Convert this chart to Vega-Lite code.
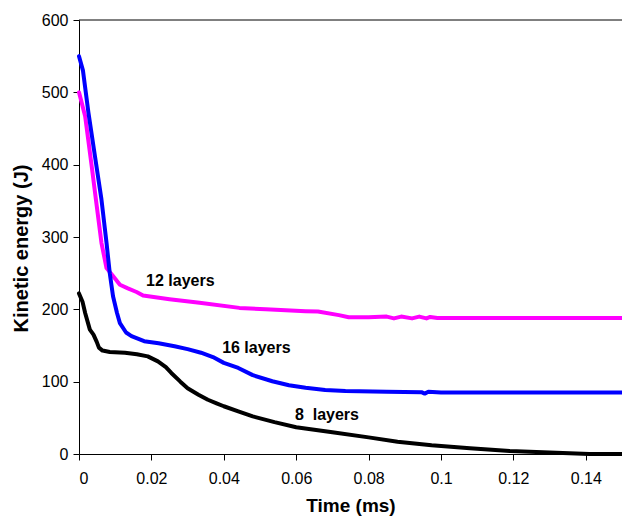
{
  "$schema": "https://vega.github.io/schema/vega-lite/v6.json",
  "width": 543,
  "height": 434,
  "autosize": {"type": "none"},
  "padding": {"left": 79, "top": 20, "right": 0, "bottom": 62},
  "background": "white",
  "config": {
    "view": {"stroke": null},
    "font": "Liberation Sans",
    "axis": {
      "grid": false,
      "domainColor": "black",
      "tickColor": "black",
      "labelColor": "black",
      "titleColor": "black",
      "labelFont": "Liberation Sans",
      "titleFont": "Liberation Sans",
      "labelFontSize": 16,
      "titleFontWeight": "bold",
      "tickSize": 6
    }
  },
  "datasets": {
    "curves": [
      {"t": 0, "e": 222, "s": "8 layers"},
      {"t": 0.001, "e": 210, "s": "8 layers"},
      {"t": 0.0017, "e": 195, "s": "8 layers"},
      {"t": 0.003, "e": 172, "s": "8 layers"},
      {"t": 0.004, "e": 165, "s": "8 layers"},
      {"t": 0.0049, "e": 155, "s": "8 layers"},
      {"t": 0.0055, "e": 147, "s": "8 layers"},
      {"t": 0.0065, "e": 143, "s": "8 layers"},
      {"t": 0.0085, "e": 141, "s": "8 layers"},
      {"t": 0.0127, "e": 140, "s": "8 layers"},
      {"t": 0.016, "e": 138, "s": "8 layers"},
      {"t": 0.019, "e": 135, "s": "8 layers"},
      {"t": 0.0218, "e": 128, "s": "8 layers"},
      {"t": 0.024, "e": 120, "s": "8 layers"},
      {"t": 0.0255, "e": 112, "s": "8 layers"},
      {"t": 0.028, "e": 100, "s": "8 layers"},
      {"t": 0.03, "e": 91, "s": "8 layers"},
      {"t": 0.033, "e": 82, "s": "8 layers"},
      {"t": 0.0356, "e": 75, "s": "8 layers"},
      {"t": 0.038, "e": 70, "s": "8 layers"},
      {"t": 0.04, "e": 66, "s": "8 layers"},
      {"t": 0.044, "e": 59, "s": "8 layers"},
      {"t": 0.048, "e": 52, "s": "8 layers"},
      {"t": 0.054, "e": 44, "s": "8 layers"},
      {"t": 0.06, "e": 37, "s": "8 layers"},
      {"t": 0.07, "e": 30, "s": "8 layers"},
      {"t": 0.08, "e": 23, "s": "8 layers"},
      {"t": 0.088, "e": 17, "s": "8 layers"},
      {"t": 0.0974, "e": 12, "s": "8 layers"},
      {"t": 0.108, "e": 8, "s": "8 layers"},
      {"t": 0.119, "e": 4, "s": "8 layers"},
      {"t": 0.13, "e": 2, "s": "8 layers"},
      {"t": 0.141, "e": 0, "s": "8 layers"},
      {"t": 0.15, "e": 0, "s": "8 layers"},

      {"t": 0, "e": 500, "s": "12 layers"},
      {"t": 0.0017, "e": 467, "s": "12 layers"},
      {"t": 0.0035, "e": 398, "s": "12 layers"},
      {"t": 0.0049, "e": 343, "s": "12 layers"},
      {"t": 0.0062, "e": 292, "s": "12 layers"},
      {"t": 0.0076, "e": 257, "s": "12 layers"},
      {"t": 0.0094, "e": 246, "s": "12 layers"},
      {"t": 0.0113, "e": 234, "s": "12 layers"},
      {"t": 0.0135, "e": 229, "s": "12 layers"},
      {"t": 0.0159, "e": 224, "s": "12 layers"},
      {"t": 0.0177, "e": 219, "s": "12 layers"},
      {"t": 0.025, "e": 214, "s": "12 layers"},
      {"t": 0.0333, "e": 209, "s": "12 layers"},
      {"t": 0.0443, "e": 202, "s": "12 layers"},
      {"t": 0.0516, "e": 200, "s": "12 layers"},
      {"t": 0.0626, "e": 197.5, "s": "12 layers"},
      {"t": 0.066, "e": 197, "s": "12 layers"},
      {"t": 0.0718, "e": 192, "s": "12 layers"},
      {"t": 0.0745, "e": 189, "s": "12 layers"},
      {"t": 0.08, "e": 189, "s": "12 layers"},
      {"t": 0.085, "e": 190, "s": "12 layers"},
      {"t": 0.087, "e": 187.5, "s": "12 layers"},
      {"t": 0.089, "e": 190, "s": "12 layers"},
      {"t": 0.092, "e": 187.5, "s": "12 layers"},
      {"t": 0.094, "e": 190, "s": "12 layers"},
      {"t": 0.096, "e": 187.5, "s": "12 layers"},
      {"t": 0.097, "e": 189.5, "s": "12 layers"},
      {"t": 0.099, "e": 188, "s": "12 layers"},
      {"t": 0.15, "e": 188, "s": "12 layers"},

      {"t": 0, "e": 550, "s": "16 layers"},
      {"t": 0.0011, "e": 530, "s": "16 layers"},
      {"t": 0.0026, "e": 472, "s": "16 layers"},
      {"t": 0.0044, "e": 412, "s": "16 layers"},
      {"t": 0.0062, "e": 352, "s": "16 layers"},
      {"t": 0.0076, "e": 292, "s": "16 layers"},
      {"t": 0.0085, "e": 250, "s": "16 layers"},
      {"t": 0.0094, "e": 218, "s": "16 layers"},
      {"t": 0.0105, "e": 195, "s": "16 layers"},
      {"t": 0.0113, "e": 181, "s": "16 layers"},
      {"t": 0.013, "e": 168, "s": "16 layers"},
      {"t": 0.0145, "e": 163, "s": "16 layers"},
      {"t": 0.018, "e": 156, "s": "16 layers"},
      {"t": 0.022, "e": 153, "s": "16 layers"},
      {"t": 0.0264, "e": 149, "s": "16 layers"},
      {"t": 0.03, "e": 145, "s": "16 layers"},
      {"t": 0.0337, "e": 140, "s": "16 layers"},
      {"t": 0.037, "e": 134, "s": "16 layers"},
      {"t": 0.04, "e": 126, "s": "16 layers"},
      {"t": 0.044, "e": 119, "s": "16 layers"},
      {"t": 0.048, "e": 109, "s": "16 layers"},
      {"t": 0.0534, "e": 100.6, "s": "16 layers"},
      {"t": 0.058, "e": 95, "s": "16 layers"},
      {"t": 0.0626, "e": 91.5, "s": "16 layers"},
      {"t": 0.068, "e": 88.5, "s": "16 layers"},
      {"t": 0.0736, "e": 87, "s": "16 layers"},
      {"t": 0.085, "e": 86, "s": "16 layers"},
      {"t": 0.0946, "e": 85.5, "s": "16 layers"},
      {"t": 0.0955, "e": 83.5, "s": "16 layers"},
      {"t": 0.0965, "e": 86, "s": "16 layers"},
      {"t": 0.1, "e": 85, "s": "16 layers"},
      {"t": 0.15, "e": 85, "s": "16 layers"}
    ],
    "labels": [
      {"t": 0.028, "e": 238.5, "label": "12 layers"},
      {"t": 0.049, "e": 147, "label": "16 layers"},
      {"t": 0.0685, "e": 53.6, "label": "8\u00a0 layers"}
    ]
  },
  "layer": [
    {
      "data": {"name": "curves"},
      "mark": {"type": "line", "strokeWidth": 4, "strokeJoin": "round", "strokeCap": "round"},
      "encoding": {
        "x": {
          "field": "t", "type": "quantitative",
          "scale": {"domain": [0, 0.15], "nice": false, "zero": false},
          "axis": {
            "values": [0, 0.02, 0.04, 0.06, 0.08, 0.1, 0.12, 0.14],
            "format": "~g",
            "labelPadding": 10,
            "title": "Time (ms)",
            "titleFontSize": 19,
            "titleBaseline": "alphabetic",
            "titleY": 57
          }
        },
        "y": {
          "field": "e", "type": "quantitative",
          "scale": {"domain": [0, 600], "nice": false},
          "axis": {
            "values": [0, 100, 200, 300, 400, 500, 600],
            "labelPadding": 5,
            "title": "Kinetic energy (J)",
            "titleFontSize": 20,
            "titleBaseline": "alphabetic",
            "titleX": -52,
            "titleY": 228
          }
        },
        "color": {
          "field": "s", "type": "nominal",
          "scale": {"domain": ["8 layers", "12 layers", "16 layers"], "range": ["#000000", "#FF00FF", "#0000FF"]},
          "legend": null
        },
        "detail": {"field": "s"}
      }
    },
    {
      "data": {"name": "labels"},
      "mark": {"type": "text", "fontWeight": "bold", "fontSize": 16, "font": "Liberation Sans", "color": "black", "align": "center", "baseline": "middle"},
      "encoding": {
        "x": {"field": "t", "type": "quantitative"},
        "y": {"field": "e", "type": "quantitative"},
        "text": {"field": "label"}
      }
    },
    {
      "data": {"values": [{}]},
      "mark": {"type": "rule", "color": "black", "strokeWidth": 1},
      "encoding": {"y": {"datum": 600}}
    }
  ]
}
